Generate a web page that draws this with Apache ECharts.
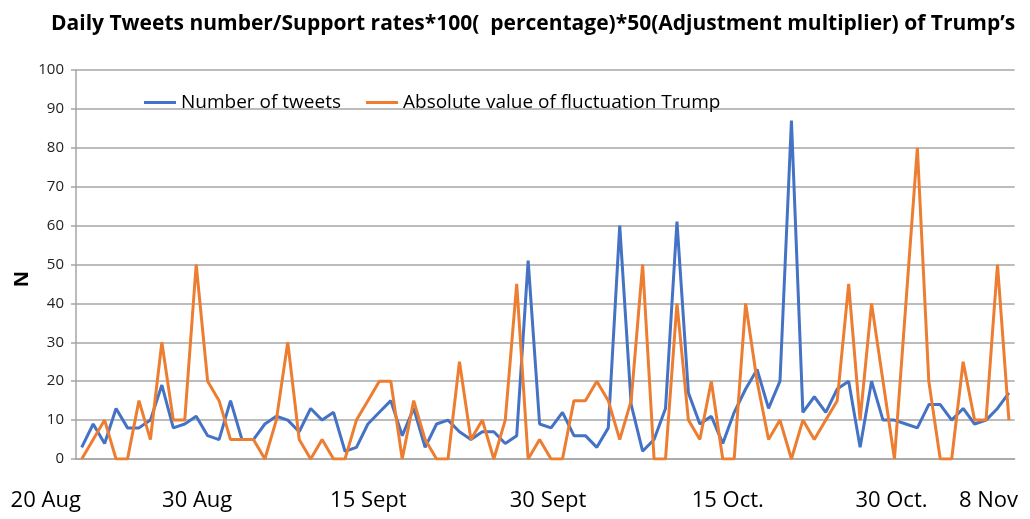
<!DOCTYPE html>
<html>
<head>
<meta charset="utf-8">
<script src="https://cdn.jsdelivr.net/npm/echarts@6/dist/echarts.min.js"></script>
<style>
  html, body { margin: 0; padding: 0; background: #fff; }
  #chart { width: 1030px; height: 519px; }
</style>
</head>
<body>
<div id="chart"></div>
<script>
  // daily values, 20 Aug .. 9 Nov
  var tweets = [3, 9, 4, 13, 8, 8, 10, 19, 8, 9, 11, 6, 5, 15, 5, 5, 9, 11, 10, 7,
    13, 10, 12, 2, 3, 9, 12, 15, 6, 13, 3, 9, 10, 7, 5, 7, 7, 4, 6, 51,
    9, 8, 12, 6, 6, 3, 8, 60, 14, 2, 5, 13, 61, 17, 9, 11, 4, 12, 18, 23,
    13, 20, 87, 12, 16, 12, 18, 20, 3, 20, 10, 10, 9, 8, 14, 14, 10, 13, 9, 10,
    13, 17]
  var fluctuation = [0, 5, 10, 0, 0, 15, 5, 30, 10, 10, 50, 20, 15, 5, 5, 5, 0, 10, 30, 5,
    0, 5, 0, 0, 10, 15, 20, 20, 0, 15, 5, 0, 0, 25, 5, 10, 0, 10, 45, 0,
    5, 0, 0, 15, 15, 20, 15, 5, 15, 50, 0, 0, 40, 10, 5, 20, 0, 0, 40, 20,
    5, 10, 0, 10, 5, 10, 15, 45, 10, 40, 20, 0, 40, 80, 20, 0, 0, 25, 10, 10,
    50, 10]

  // categories: one per day
  var months = ['Aug', 'Sep', 'Oct', 'Nov']
  var monthDays = [31, 30, 31, 30]
  var days = []
  var m = 0, d = 20
  for (var i = 0; i < tweets.length; i++) {
    days.push(d + ' ' + months[m])
    d++
    if (d > monthDays[m]) { d = 1; m++ }
  }

  // the few dates written under the axis, with a small nudge (px)
  var tickLabels = { 0: '20 Aug', 10: '30 Aug', 26: '15 Sept', 41: '30 Sept', 56: '15 Oct.', 71: '30 Oct.', 80: '8 Nov' }
  var labelShift = { 0: -36, 10: 1, 26: -11, 41: -3, 56: 5, 71: -3, 80: -9 }

  var font = "'Open Sans', sans-serif"
  var gridColor = '#a6a6a6'

  var chart = echarts.init(document.getElementById('chart'))
  var option = {
    animation: false,
    title: {
      text: 'Daily Tweets number/Support rates*100(  percentage)*50(Adjustment multiplier) of Trump\u2019s',
      left: 46,
      top: 9,
      textStyle: { fontFamily: font, fontWeight: 'bold', fontSize: 21, color: '#000' }
    },
    legend: [{
      data: ['Number of tweets'],
      left: 139, top: 88,
      icon: 'rect', itemWidth: 32, itemHeight: 3, itemGap: 2,
      textStyle: { fontFamily: font, fontSize: 19, color: '#000' }
    }, {
      data: ['Absolute value of fluctuation Trump'],
      left: 361, top: 88,
      icon: 'rect', itemWidth: 32, itemHeight: 3, itemGap: 2,
      textStyle: { fontFamily: font, fontSize: 19, color: '#000' }
    }],
    grid: { left: 76, right: 12, top: 70, bottom: 60 },
    xAxis: {
      type: 'category',
      data: days,
      boundaryGap: true,
      axisLine: { lineStyle: { color: gridColor, width: 1.5 } },
      axisTick: { interval: 6, length: 5, lineStyle: { color: gridColor, width: 1.5 } },
      axisLabel: {
        interval: function (idx) { return tickLabels[idx] !== undefined },
        margin: 31,
        formatter: function (val, idx) {
          var s = labelShift[idx] || 0
          return s < 0 ? '{l|' + tickLabels[idx] + '}' + '{p' + (-s * 2) + '|}' : '{p' + (s * 2) + '|}' + '{l|' + tickLabels[idx] + '}'
        },
        rich: (function () {
          var r = { l: { fontFamily: font, fontSize: 22, color: '#000' } }
          for (var k in labelShift) {
            var w = Math.abs(labelShift[k]) * 2
            r['p' + w] = { width: w }
          }
          return r
        })()
      }
    },
    yAxis: {
      type: 'value',
      min: 0, max: 100, interval: 10,
      axisLine: { show: true, lineStyle: { color: gridColor, width: 1.5 } },
      axisTick: { show: true, length: 5, lineStyle: { color: gridColor, width: 1.5 } },
      axisLabel: { fontFamily: font, fontSize: 15, color: '#222', margin: 12 },
      splitLine: { lineStyle: { color: gridColor, width: 1.5 } }
    },
    graphic: [{
      type: 'text',
      x: 22, y: 279,
      rotation: Math.PI / 2,
      style: { text: 'N', fontFamily: font, fontWeight: 'bold', fontSize: 20, fill: '#000', align: 'center', verticalAlign: 'middle' }
    }],
    series: [{
      name: 'Number of tweets',
      type: 'line',
      data: tweets,
      symbol: 'none',
      itemStyle: { color: '#4472C4' },
      lineStyle: { color: '#4472C4', width: 3 }
    }, {
      name: 'Absolute value of fluctuation Trump',
      type: 'line',
      data: fluctuation,
      symbol: 'none',
      itemStyle: { color: '#ED7D31' },
      lineStyle: { color: '#ED7D31', width: 3 }
    }]
  }
  chart.setOption(option)
</script>
</body>
</html>
